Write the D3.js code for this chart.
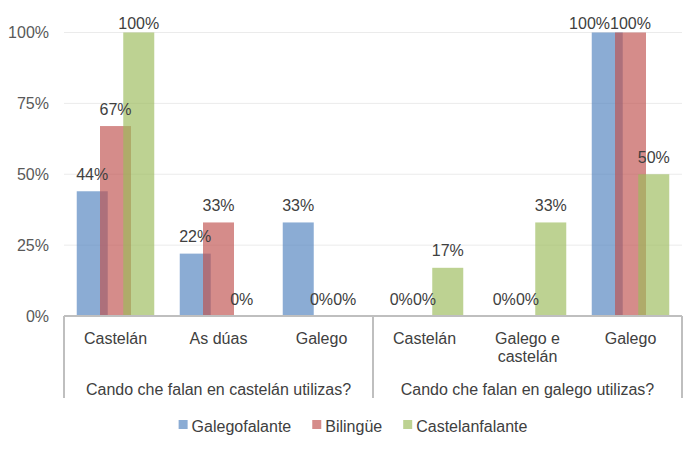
<!DOCTYPE html>
<html>
<head>
<meta charset="utf-8">
<script src="https://cdn.jsdelivr.net/npm/d3@7"></script>
<style>
  html, body { margin: 0; padding: 0; background: #fff; }
  svg { display: block; font-family: "Liberation Sans", Arial, sans-serif; }
</style>
</head>
<body>
<svg id="chart" width="698" height="451"></svg>
<script>
// Question groups and the answer categories under each
const groups = ["Cando che falan en castelán utilizas?", "Cando che falan en galego utilizas?"];
const categories = [
  { group: 0, label: ["Castelán"] },
  { group: 0, label: ["As dúas"] },
  { group: 0, label: ["Galego"] },
  { group: 1, label: ["Castelán"] },
  { group: 1, label: ["Galego e", "castelán"] },
  { group: 1, label: ["Galego"] }
];
const seriesNames = ["Galegofalante", "Bilingüe", "Castelanfalante"];
const galegofalante   = [44, 22, 33, 0, 0, 100];
const bilingue        = [67, 33, 0, 0, 0, 100];
const castelanfalante = [100, 0, 0, 17, 33, 50];
const seriesValues = [galegofalante, bilingue, castelanfalante];
const yTicks = [0, 25, 50, 75, 100];
const colors = ["#4F81BD", "#C0504D", "#9BBB59"];

const FONT = 16;
const svg = d3.select("#chart");
const plot = { left: 64, right: 682, top: 32.5, bottom: 316 };

const x = d3.scaleBand()
  .domain(categories.map((d, i) => i))
  .range([plot.left, plot.right])
  .paddingInner(0).paddingOuter(0);
const y = d3.scaleLinear().domain([0, 100]).range([plot.bottom, plot.top]);

// Gridlines
svg.append("g")
  .selectAll("line")
  .data(yTicks.filter(t => t > 0))
  .join("line")
  .attr("x1", plot.left).attr("x2", plot.right)
  .attr("y1", d => y(d)).attr("y2", d => y(d))
  .attr("stroke", "#EBEBEB").attr("stroke-width", 1);

// Y axis tick labels
const yAxis = d3.axisLeft(y).tickValues(yTicks).tickFormat(d => d + "%").tickSize(0).tickPadding(15);
const yg = svg.append("g").attr("transform", `translate(${plot.left},0)`).call(yAxis);
yg.select(".domain").remove();
yg.selectAll("text").attr("font-size", FONT).attr("fill", "#595959")
  .attr("font-family", "Liberation Sans, Arial, sans-serif");

// Bars: three overlapping series per category
const bw = x.bandwidth() * 0.301;
const step = bw * 0.75;
const barData = [];
seriesValues.forEach((vals, s) => {
  vals.forEach((v, i) => {
    const cx = x(i) + x.bandwidth() / 2;
    const x0 = cx - (bw + 2 * step) / 2 + s * step;
    barData.push({ s, i, v, x0 });
  });
});

svg.append("g")
  .selectAll("rect")
  .data(barData)
  .join("rect")
  .attr("x", d => d.x0)
  .attr("width", bw)
  .attr("y", d => y(d.v))
  .attr("height", d => y(0) - y(d.v))
  .attr("fill", d => colors[d.s])
  .attr("fill-opacity", 0.66);

// Value labels, kept inside the top of the chart
const labels = svg.append("g")
  .selectAll("text")
  .data(barData)
  .join("text")
  .attr("x", d => d.x0 + bw / 2)
  .attr("y", d => Math.max(y(d.v) - 11.5, 28.5))
  .attr("text-anchor", "middle")
  .attr("font-size", FONT)
  .attr("fill", "#404040")
  .text(d => d.v + "%");

// Nudge colliding labels in the same category leftwards
labels.each(function (d) { d.w = this.getComputedTextLength(); d.lx = d.x0 + bw / 2; d.ly = Math.max(y(d.v) - 11.5, 28.5); });
categories.forEach((c, i) => {
  const row = barData.filter(d => d.i === i).sort((a, b) => b.s - a.s);
  for (let k = 1; k < row.length; k++) {
    const right = row[k - 1], cur = row[k];
    if (Math.abs(right.ly - cur.ly) < FONT && cur.lx + cur.w / 2 > right.lx - right.w / 2) {
      cur.lx = right.lx - right.w / 2 - cur.w / 2;
    }
  }
});
labels.attr("x", d => d.lx);

// Category axis: baseline and group separators
const axisColor = "#BFBFBF";
svg.append("line")
  .attr("x1", plot.left).attr("x2", plot.right)
  .attr("y1", plot.bottom).attr("y2", plot.bottom)
  .attr("stroke", axisColor).attr("stroke-width", 2);

const groupBounds = groups.map((g, gi) => {
  const idx = categories.map((c, i) => i).filter(i => categories[i].group === gi);
  return { gi, x0: x(idx[0]), x1: x(idx[idx.length - 1]) + x.bandwidth() };
});
const sepXs = [plot.left, ...groupBounds.map(b => b.x1)];
svg.append("g")
  .selectAll("line")
  .data(sepXs)
  .join("line")
  .attr("x1", d => d).attr("x2", d => d)
  .attr("y1", plot.bottom).attr("y2", 398)
  .attr("stroke", axisColor).attr("stroke-width", 2);

// Category labels
const catG = svg.append("g");
categories.forEach((c, i) => {
  const t = catG.append("text")
    .attr("x", x(i) + x.bandwidth() / 2)
    .attr("y", 344)
    .attr("text-anchor", "middle")
    .attr("font-size", FONT)
    .attr("fill", "#404040");
  c.label.forEach((line, li) => {
    t.append("tspan").attr("x", x(i) + x.bandwidth() / 2).attr("dy", li === 0 ? 0 : 18).text(line);
  });
});

// Group labels
svg.append("g")
  .selectAll("text")
  .data(groupBounds)
  .join("text")
  .attr("x", d => (d.x0 + d.x1) / 2)
  .attr("y", 395)
  .attr("text-anchor", "middle")
  .attr("font-size", FONT)
  .attr("fill", "#404040")
  .text(d => groups[d.gi]);

// Legend
const legend = svg.append("g");
const sq = 9, sqGap = 4, itemGap = 21;
const items = seriesNames.map((name, s) => {
  const g = legend.append("g");
  g.append("rect").attr("width", sq).attr("height", sq).attr("y", -12)
    .attr("fill", colors[s]).attr("fill-opacity", 0.66);
  const t = g.append("text").attr("x", sq + sqGap).attr("y", 0)
    .attr("font-size", FONT).attr("fill", "#404040").text(name);
  const w = sq + sqGap + t.node().getComputedTextLength();
  return { g, w };
});
const total = d3.sum(items, d => d.w) + itemGap * (items.length - 1);
let lx = 353 - total / 2;
items.forEach(it => {
  it.g.attr("transform", `translate(${lx},432)`);
  lx += it.w + itemGap;
});
</script>
</body>
</html>
